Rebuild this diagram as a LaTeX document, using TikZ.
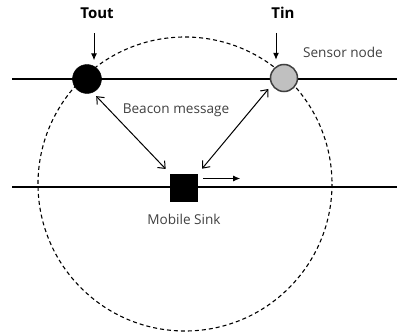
\documentclass[tikz,border=0pt]{standalone}
\usepackage{fontspec}
\setmainfont{Open Sans}
\usetikzlibrary{arrows.meta}
\definecolor{txtgray}{HTML}{404040}
\definecolor{nodegray}{HTML}{C0C0C0}
\begin{document}
\begin{tikzpicture}[x=1pt,y=-1pt,
  lbl/.style={font=\fontsize{13.6}{15}\selectfont, text=txtgray, inner sep=0pt},
  tlbl/.style={font=\fontsize{15}{17}\selectfont\bfseries, inner sep=0pt},
  trackline/.style={line width=1.3pt},
  pointer/.style={line width=1pt, -{Latex[length=7pt,width=6pt]}},
  beacon/.style={line width=1pt, {Straight Barb[length=6pt,width=10pt]}-{Straight Barb[length=6pt,width=10pt]}, shorten <=5pt, shorten >=6pt},
  rangecircle/.style={line width=1.1pt, dash pattern=on 4pt off 3pt}
]
\useasboundingbox (0,0) rectangle (397,332);
% tracks
\draw[trackline] (12,79) -- (397,79);
\draw[trackline, line width=1.8pt] (12,187) -- (397,187);
% range
\draw[rangecircle] (185,184) circle (147);
% nodes
\node[circle, fill=black, draw=black, minimum size=29pt, inner sep=0pt] (tout) at (87,79) {};
\node[circle, fill=nodegray, draw=txtgray, line width=1.5pt, minimum size=27pt, inner sep=0pt] (tin) at (284,78) {};
\node[rectangle, fill=black, minimum size=28pt, inner sep=0pt] (sink) at (184,187.5) {};
% labels
\node[tlbl] (toutlbl) at (97,13) {Tout};
\node[tlbl] (tinlbl) at (283,13) {Tin};
\node[lbl] (sensorlbl) at (343,52) {Sensor node};
\node[lbl] (beaconlbl) at (176,110) {Beacon message};
\node[lbl] (sinklbl) at (184,219) {Mobile Sink};
% pointers
\draw[pointer] ([xshift=7pt,yshift=31pt]tout.north) -- ([xshift=7pt,yshift=4pt]tout.north);
\draw[pointer] ([xshift=-8pt,yshift=31pt]tin.north) -- ([xshift=-8pt,yshift=4pt]tin.north);
% beacon arrows
\draw[beacon] (tout.-67) -- (sink.north west);
\draw[beacon] (tin.210) -- (sink.north east);
% movement
\draw[pointer] ([xshift=5pt,yshift=9pt]sink.east) -- ++(37,0);
\end{tikzpicture}
\end{document}
